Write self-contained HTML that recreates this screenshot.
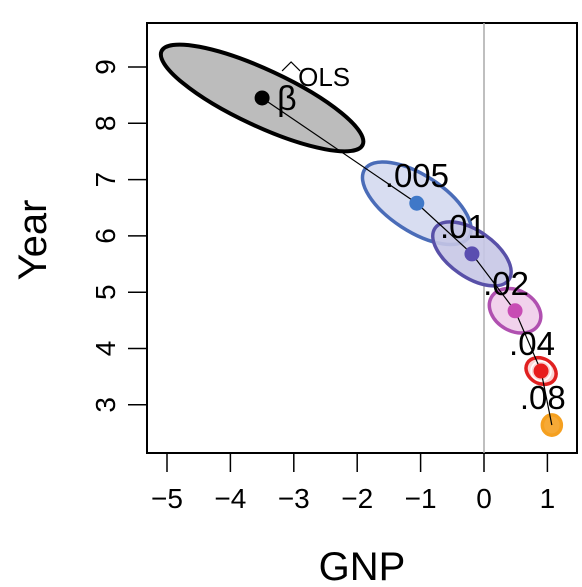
<!DOCTYPE html>
<html><head><meta charset="utf-8"><style>
html,body{margin:0;padding:0;background:#fff;}
svg{display:block;font-family:"Liberation Sans",sans-serif;}
</style></head><body>
<svg id="c" width="582" height="587" viewBox="0 0 582 587"></svg>
<script>
const labels=["OLS",".005",".01",".02",".04",".08"];
const gnp=[-3.50,-1.06,-0.19,0.49,0.90,1.07];
const year=[8.45,6.58,5.68,4.67,3.60,2.64];
const semiMajor=[1.75,0.98,0.71,0.43,0.25,0.15];
const semiMinor=[0.50,0.50,0.41,0.36,0.22,0.18];
const tilt=[25,33,35,30,30,0];
const xTicks=[-5,-4,-3,-2,-1,0,1];
const yTicks=[3,4,5,6,7,8,9];
const fills=["#bcbcbc","#d4d9ef","#c6c7e6","#f0cdea","#fbd0d0","#f5a020"];
const strokes=["#000","#4a6cb8","#5850a8","#b050b0","#e02020","#f5a020"];
const dots=["#000","#3f78c8","#5a4eb0","#c84cb4","#e81c1c","#f5a020"];
const X=v=>484+(v)*63.4, Y=v=>67-(v-9)*56.3;
const svg=document.getElementById('c');const NS="http://www.w3.org/2000/svg";
function mk(t,a,txt){const e=document.createElementNS(NS,t);for(const k in a)e.setAttribute(k,a[k]);if(txt!=null)e.textContent=txt;svg.appendChild(e);return e;}
let e;
e=mk('rect',{x:147,y:23,width:430,height:430,fill:'#fff',stroke:'#000','stroke-width':2});

e=mk('line',{x1:X(0),x2:X(0),y1:23,y2:453,stroke:'#aaa','stroke-width':1.5});

for(let i=0;i<labels.length;i++){
  const cx=X(gnp[i]),cy=Y(year[i]);
  e=mk('ellipse',{cx:cx,cy:cy,rx:semiMajor[i]*63.4,ry:semiMinor[i]*56.3,fill:fills[i],'fill-opacity':i==0?1:0.9,stroke:strokes[i],'stroke-width':i==0?4:3.5,transform:`rotate(${tilt[i]} ${cx} ${cy})`});
  
}
e=mk('circle',{cx:X(gnp[4]),cy:Y(year[4]),r:10,fill:'none',stroke:'#fff','stroke-width':1.5});

let pts=gnp.map((g,i)=>X(g)+','+Y(year[i])).join(' ');
e=mk('polyline',{points:pts,fill:'none',stroke:'#000','stroke-width':1.2});

for(let i=0;i<labels.length;i++){
  e=mk('circle',{cx:X(gnp[i]),cy:Y(year[i]),r:i==5?0:7.5,fill:dots[i]});
  
  if(i==0){
    e=mk('text',{x:X(gnp[i])+15,y:Y(year[i])+12,'font-size':34},'β');
    
    e=mk('text',{x:X(gnp[i])+36,y:Y(year[i])-12,'font-size':26},'OLS');
    
    e=mk('polyline',{points:`${X(gnp[i])+20},${Y(year[i])-27} ${X(gnp[i])+29},${Y(year[i])-36} ${X(gnp[i])+38},${Y(year[i])-27}`,fill:'none',stroke:'#000','stroke-width':1.2});
    
  } else {
    e=mk('text',{x:X(gnp[i])-32,y:Y(year[i])-16,'font-size':33},labels[i]);
    
  }
}
for(const t of xTicks){
  e=mk('line',{x1:X(t),x2:X(t),y1:453,y2:472,stroke:'#000','stroke-width':1.5});
  
  e=mk('text',{x:X(t),y:508,'font-size':28,'text-anchor':'middle'},t<0?'−'+(-t):String(t));
  
}
for(const t of yTicks){
  e=mk('line',{x1:128,x2:147,y1:Y(t),y2:Y(t),stroke:'#000','stroke-width':1.5});
  
  e=mk('text',{x:115,y:Y(t),'font-size':28,'text-anchor':'middle',transform:`rotate(-90 115 ${Y(t)})`},String(t));
  
}
e=mk('text',{x:362,y:580,'font-size':40,'text-anchor':'middle'},'GNP');

e=mk('text',{x:46,y:240,'font-size':40,'text-anchor':'middle',transform:'rotate(-90 46 240)'},'Year');

</script>
</body></html>
